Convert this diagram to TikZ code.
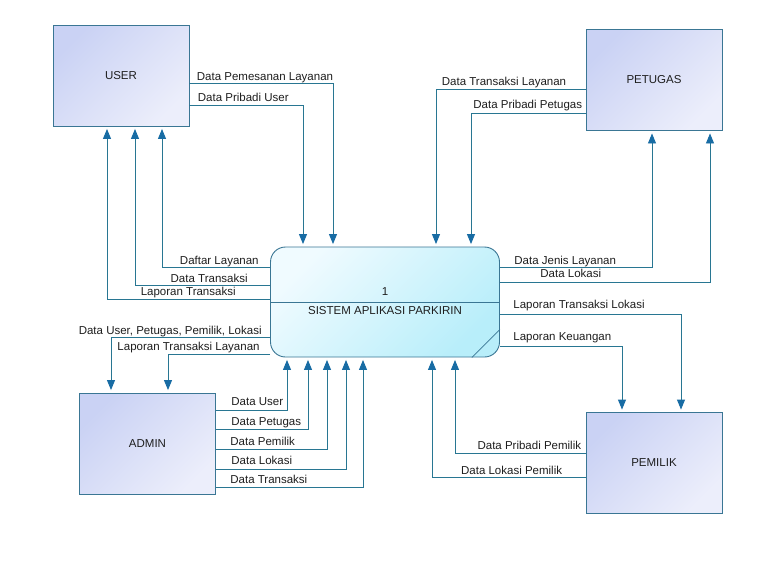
\documentclass[tikz,border=0pt]{standalone}
\usepackage{fontspec}
\setmainfont{Liberation Sans}
\usepackage{xcolor}
\usetikzlibrary{positioning,arrows.meta,calc}
\definecolor{boxline}{RGB}{58,118,148}
\definecolor{flowline}{RGB}{40,118,146}
\definecolor{tipblue}{RGB}{24,108,164}
\definecolor{entA}{RGB}{202,210,244}
\definecolor{entB}{RGB}{236,238,251}
\definecolor{procA}{RGB}{240,251,255}
\definecolor{procB}{RGB}{184,238,250}
\definecolor{txt}{RGB}{30,30,30}
\tikzset{
  entity/.style={draw=boxline, line width=0.9pt, minimum width=136pt, minimum height=101pt,
    top color=entA, bottom color=entB, shading angle=45, text=txt,
    font=\fontsize{11.5}{13}\selectfont},
  process/.style={draw=boxline, line width=0.9pt, rounded corners=15pt, minimum width=229pt,
    minimum height=110pt, top color=procA, bottom color=procB, shading angle=45},
  lbl/.style={font=\fontsize{11.5}{13}\selectfont, text=txt, inner sep=0pt},
  flow/.style={draw=flowline, line width=0.9pt, shorten >=2.5pt,
    -{Triangle[length=10pt,width=8pt,color=tipblue]}}
}
\begin{document}
\begin{tikzpicture}[x=1pt, y=-1pt]
  \useasboundingbox[fill=white] (0,0) rectangle (766,571);
  \node[entity] (user) at (121,75.5) {USER};
  \node[entity] (petugas) at (654,80) {PETUGAS};
  \node[entity] (admin) at (147.5,443.5) {ADMIN};
  \node[entity] (pemilik) at (654,463) {PEMILIK};
  \node[process] (proc) at (385,302) {};
  \draw[boxline, line width=0.9pt] (proc.west |- 0,302) -- (proc.east |- 0,302);
  \draw[boxline, line width=0.7pt] ($(proc.south east)+(-28,0)$) -- ($(proc.south east)+(0,-28)$);
  \node[lbl] (pnum) at (385,292) {1};
  \node[lbl] (pname) at (385,311) {SISTEM APLIKASI PARKIRIN};
  \draw[flow] (user.east |- 0,83) node[lbl, anchor=base west, xshift=7pt, yshift=2.5pt] {Data Pemesanan Layanan} -| (333,0 |- proc.north);
  \draw[flow] (user.east |- 0,105) node[lbl, anchor=base west, xshift=8pt, yshift=4pt] {Data Pribadi User} -| (303,0 |- proc.north);
  \draw[flow] (proc.west |- 0,267) node[lbl, anchor=base east, xshift=-11pt, yshift=3pt] {Daftar Layanan} -| (162,0 |- user.south);
  \draw[flow] (proc.west |- 0,285) node[lbl, anchor=base east, xshift=-22pt, yshift=3pt] {Data Transaksi} -| (135,0 |- user.south);
  \draw[flow] (proc.west |- 0,299) node[lbl, anchor=base east, xshift=-34pt, yshift=4pt] {Laporan Transaksi} -| (107,0 |- user.south);
  \draw[flow] (petugas.west |- 0,89) node[lbl, anchor=base east, xshift=-19pt, yshift=4pt] {Data Transaksi Layanan} -| (436,0 |- proc.north);
  \draw[flow] (petugas.west |- 0,113) node[lbl, anchor=base east, xshift=-3pt, yshift=5pt] {Data Pribadi Petugas} -| (471,0 |- proc.north);
  \draw[flow] (proc.east |- 0,267) node[lbl, anchor=base west, xshift=14pt, yshift=3pt] {Data Jenis Layanan} -| (652,0 |- petugas.south);
  \draw[flow] (proc.east |- 0,282) node[lbl, anchor=base west, xshift=40pt, yshift=5pt] {Data Lokasi} -| (710,0 |- petugas.south);
  \draw[flow] (proc.east |- 0,314) node[lbl, anchor=base west, xshift=13pt, yshift=6pt] {Laporan Transaksi Lokasi} -| (681,0 |- pemilik.north);
  \draw[flow] (proc.east |- 0,346) node[lbl, anchor=base west, xshift=13pt, yshift=6pt] {Laporan Keuangan} -| (622,0 |- pemilik.north);
  \draw[flow] (pemilik.west |- 0,453) node[lbl, anchor=base east, xshift=-4pt, yshift=3.5pt] {Data Pribadi Pemilik} -| (455,0 |- proc.south);
  \draw[flow] (pemilik.west |- 0,477) node[lbl, anchor=base east, xshift=-23pt, yshift=3pt] {Data Lokasi Pemilik} -| (432,0 |- proc.south);
  \draw[flow] (proc.west |- 0,337) node[lbl, anchor=base east, xshift=-8pt, yshift=3pt] {Data User, Petugas, Pemilik, Lokasi} -| (111,0 |- admin.north);
  \draw[flow] (proc.west |- 0,354) node[lbl, anchor=base east, xshift=-10pt, yshift=4pt] {Laporan Transaksi Layanan} -| (168,0 |- admin.north);
  \draw[flow] (admin.east |- 0,410) node[lbl, anchor=base west, xshift=15pt, yshift=5pt] {Data User} -| (287,0 |- proc.south);
  \draw[flow] (admin.east |- 0,429) node[lbl, anchor=base west, xshift=15pt, yshift=4pt] {Data Petugas} -| (308,0 |- proc.south);
  \draw[flow] (admin.east |- 0,449) node[lbl, anchor=base west, xshift=14pt, yshift=4pt] {Data Pemilik} -| (327,0 |- proc.south);
  \draw[flow] (admin.east |- 0,469) node[lbl, anchor=base west, xshift=15pt, yshift=5pt] {Data Lokasi} -| (346,0 |- proc.south);
  \draw[flow] (admin.east |- 0,487) node[lbl, anchor=base west, xshift=14pt, yshift=4pt] {Data Transaksi} -| (363,0 |- proc.south);
\end{tikzpicture}
\end{document}
